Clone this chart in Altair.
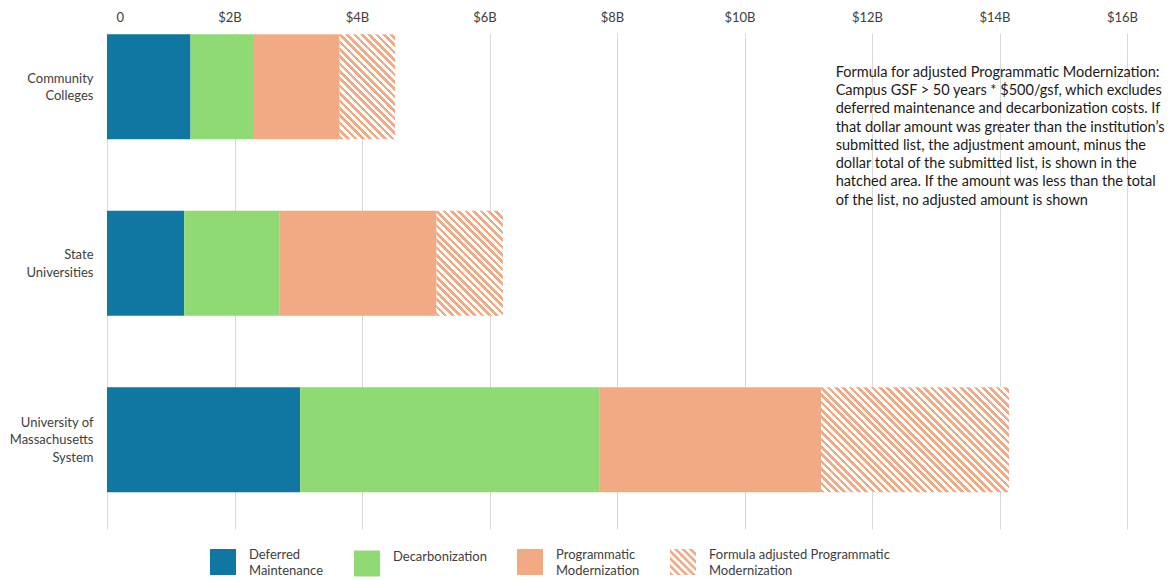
import math
import altair as alt
import pandas as pd

# ---- data (dollar amounts in billions) ----
institutions = ["Community Colleges", "State Universities", "University of Massachusetts System"]
institution_lines = {
    "Community Colleges": ["Community", "Colleges"],
    "State Universities": ["State", "Universities"],
    "University of Massachusetts System": ["University of", "Massachusetts", "System"],
}
series = [
    "Deferred Maintenance",
    "Decarbonization",
    "Programmatic Modernization",
    "Formula adjusted Programmatic Modernization",
]
series_lines = {
    "Deferred Maintenance": ["Deferred", "Maintenance"],
    "Decarbonization": ["Decarbonization"],
    "Programmatic Modernization": ["Programmatic", "Modernization"],
    "Formula adjusted Programmatic Modernization": ["Formula adjusted Programmatic", "Modernization"],
}
deferred_maintenance = [1.31, 1.21, 3.03]
decarbonization = [0.98, 1.50, 4.69]
programmatic_modernization = [1.36, 2.46, 3.48]
formula_adjusted = [0.87, 1.04, 2.95]
series_colors = ["#0f77a1", "#8fda74", "#f2aa84", "#f2aa84"]
x_ticks = [0, 2, 4, 6, 8, 10, 12, 14, 16]
note_lines = [
    "Formula for adjusted Programmatic Modernization:",
    "Campus GSF > 50 years * $500/gsf, which excludes",
    "deferred maintenance and decarbonization costs. If",
    "that dollar amount was greater than the institution\u2019s",
    "submitted list, the adjustment amount, minus the",
    "dollar total of the submitted list, is shown in the",
    "hatched area. If the amount was less than the total",
    "of the list, no adjusted amount is shown",
]

# ---- layout / style ----
FONT = "Lato"
TEXT_COLOR = "#404040"
W, H = 1020, 496
X_MAX = 16
PAD_INNER, PAD_OUTER, ALIGN = 0.405, 0.1076, 0.03
STEP = H / (len(institutions) - PAD_INNER + 2 * PAD_OUTER)
BANDWIDTH = STEP * (1 - PAD_INNER)
HATCH_PERIOD = 5.2   # px, measured perpendicular to the stripes
HATCH_FILL = 0.5     # share of each period that is coloured

# ---- stacked segments ----
rows = []
for i, inst in enumerate(institutions):
    vals = [deferred_maintenance[i], decarbonization[i], programmatic_modernization[i], formula_adjusted[i]]
    start = 0.0
    for s, v in zip(series, vals):
        rows.append({"institution": inst, "series": s, "start": start, "end": start + v, "value": v})
        start += v
df = pd.DataFrame(rows)


def hatch_gradient(w, h, color, bg="#ffffff"):
    """Striped fill for a w x h px rectangle as a hard-stop linear gradient."""
    k = (w + h) / (w * w + h * h)
    n = (w + h) / (math.sqrt(2) * HATCH_PERIOD)
    stops = []
    i = 0
    while i / n < 1:
        a = i / n
        b = min((i + HATCH_FILL) / n, 1.0)
        c = min((i + 1) / n, 1.0)
        stops += [(color, a), (color, b), (bg, b), (bg, c)]
        i += 1
    return alt.Gradient(
        gradient="linear", x1=0, y1=1, x2=k * w, y2=1 - k * h,
        stops=[alt.GradientStop(color=c, offset=round(o, 5)) for c, o in stops],
    )


def clip_poly(poly, a, b, c):
    """Keep the part of poly where a*x + b*y <= c."""
    out = []
    for j in range(len(poly)):
        p, q = poly[j], poly[(j + 1) % len(poly)]
        fp = a * p[0] + b * p[1] - c
        fq = a * q[0] + b * q[1] - c
        if fp <= 0:
            out.append(p)
        if (fp < 0 < fq) or (fq < 0 < fp):
            t = fp / (fp - fq)
            out.append((p[0] + t * (q[0] - p[0]), p[1] + t * (q[1] - p[1])))
    return out


def hatch_symbol_path(period=0.57, share=0.5):
    square = [(-1, -1), (1, -1), (1, 1), (-1, 1)]
    parts = []
    c = -2.0
    while c < 2.0:
        poly = clip_poly(square, -1, 1, -c)                # x - y >= c
        poly = clip_poly(poly, 1, -1, c + period * share)  # x - y <= c + stripe
        if len(poly) >= 3:
            parts.append("M" + "L".join(f"{x:.3f},{y:.3f}" for x, y in poly) + "Z")
        c += period
    return "".join(parts)


SQUARE = "M-1,-1H1V1H-1Z"
series_shapes = [SQUARE, SQUARE, SQUARE, hatch_symbol_path()]

y_label_expr = " : ".join(
    f"datum.label == '{k}' ? {v}" for k, v in institution_lines.items()
) + " : datum.label"
legend_label_expr = " : ".join(
    f"datum.label == '{k}' ? {v}" for k, v in series_lines.items()
) + " : datum.label"

y_enc = alt.Y(
    "institution:N",
    sort=institutions,
    scale=alt.Scale(domain=institutions, paddingInner=PAD_INNER, paddingOuter=PAD_OUTER, align=ALIGN),
    axis=alt.Axis(
        title=None, domain=False, ticks=False, labelPadding=14, labelFontSize=13,
        labelLineHeight=17.5, labelColor=TEXT_COLOR, labelFont=FONT, labelExpr=y_label_expr,
        # centre the stacked label lines on their bar
        labelOffset={
            "condition": {"test": f"datum.value == '{institutions[2]}'", "value": -17},
            "value": -8,
        },
    ),
)
x_enc = alt.X(
    "start:Q",
    scale=alt.Scale(domain=[0, X_MAX], nice=False, zero=True),
    axis=alt.Axis(
        orient="top", title=None, values=x_ticks, domain=False, ticks=False,
        grid=True, gridColor="#d9d9d9", gridWidth=1, labelPadding=9,
        labelFontSize=13, labelColor=TEXT_COLOR, labelFont=FONT,
        labelAlign={"condition": {"test": "datum.value == 0", "value": "left"}, "value": "center"},
        labelOffset={"condition": {"test": "datum.value == 0", "value": 9}, "value": -5},
        labelExpr="datum.value == 0 ? '0' : '$' + datum.value + 'B'",
    ),
)

legend = alt.Legend(
    title=None, orient="none", direction="horizontal", columns=4,
    legendX=103, legendY=516, padding=0,
    symbolSize=676, symbolStrokeWidth=0, symbolOpacity=1,
    labelFont=FONT, labelFontSize=13, labelColor=TEXT_COLOR, labelLimit=300,
    labelOffset=13, columnPadding=30, labelBaseline="bottom",
    labelExpr=legend_label_expr,
)
color_enc = alt.Color(
    "series:N", scale=alt.Scale(domain=series, range=series_colors), legend=legend,
)

base = alt.Chart(df)

solid = base.transform_filter(
    alt.FieldOneOfPredicate(field="series", oneOf=series[:3])
).mark_bar().encode(x=x_enc, x2="end:Q", y=y_enc, color=color_enc)

hatched = []
for i, inst in enumerate(institutions):
    w = formula_adjusted[i] * W / X_MAX
    hatched.append(
        base.transform_filter(
            (alt.datum.institution == inst) & (alt.datum.series == series[3])
        ).mark_bar(fill=hatch_gradient(w, BANDWIDTH, series_colors[3]), strokeWidth=0)
        .encode(x=x_enc, x2="end:Q", y=y_enc)
    )

# legend entries with a hatched swatch for the formula-adjusted series
legend_keys = base.transform_filter("false").mark_point(filled=True, opacity=1).encode(
    color=color_enc,
    shape=alt.Shape("series:N", scale=alt.Scale(domain=series, range=series_shapes), legend=legend),
)

# explanatory note, drawn once
note = alt.Chart(pd.DataFrame({"note": [0]})).mark_text(
    text=note_lines, align="left", baseline="top", font=FONT, fontSize=14.5,
    fontWeight="normal", lineHeight=18.3, color="#1a1a1a", dy=-21,
).encode(x=alt.datum(11.43), y=alt.datum("Community Colleges"))

chart = alt.layer(solid, *hatched, legend_keys, note).properties(
    width=W, height=H,
    autosize=alt.AutoSizeParams(type="none"),
    padding={"left": 107, "top": 33, "right": 44, "bottom": 51},
    background="#ffffff",
).configure(
    style={"guide-label": {"lineHeight": 16}},
).configure_view(stroke=None)

chart.save("out.html", embed_options={"renderer": "svg", "actions": False})
